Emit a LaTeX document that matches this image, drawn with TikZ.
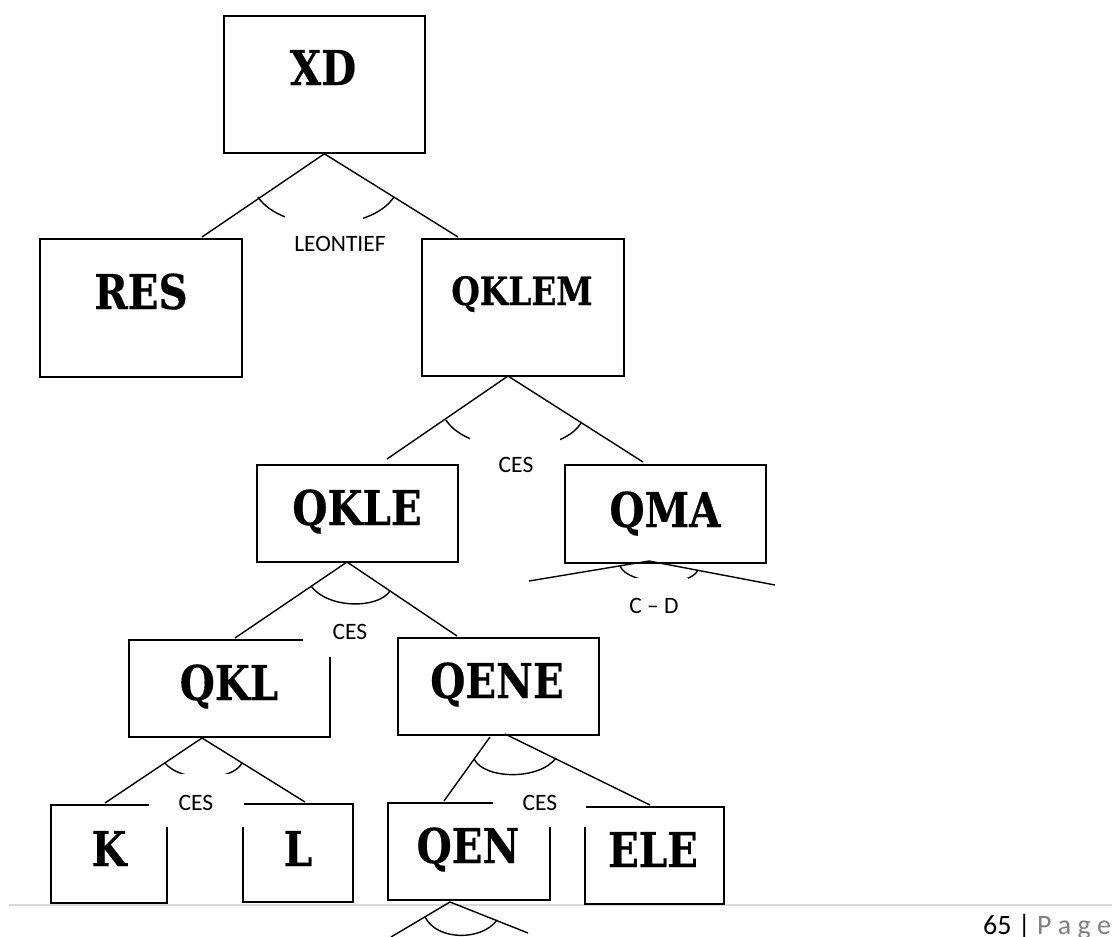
\documentclass[tikz,border=0pt]{standalone}
\usepackage{fontspec}
\setmainfont{Carlito}
\newfontfamily\boxfont[FakeStretch=0.84,FakeBold=0.4]{DejaVu Serif}
\definecolor{rulegray}{RGB}{217,217,217}
\definecolor{pagegray}{RGB}{127,127,127}
\tikzset{
  box/.style={draw, line width=1.8pt, inner sep=0pt, anchor=north west},
  boxtxt/.style={font=\boxfont\bfseries\fontsize{48}{48}\selectfont, inner sep=0pt, anchor=base},
  smalltxt/.style={font=\boxfont\bfseries\fontsize{39}{39}\selectfont, inner sep=0pt, anchor=base},
  conn/.style={line width=1.4pt},
  arcln/.style={line width=1.4pt},
  mask/.style={fill=white, draw=none},
  lbl/.style={font=\fontsize{23.5}{23.5}\selectfont, inner sep=0pt, anchor=center}
}
\begin{document}
\begin{tikzpicture}[x=1pt, y=-1pt]
\useasboundingbox (0,0) rectangle (1112,937);

% footer rule
\draw[line width=1.6pt, rulegray] (9,905) -- (1112,905);

% boxes
\node[box, minimum width=201pt, minimum height=137pt] (XD) at (223,15) {};
\node[box, minimum width=202pt, minimum height=138pt] (RES) at (39,238) {};
\node[box, minimum width=202pt, minimum height=137pt] (QKLEM) at (421,238) {};
\node[box, minimum width=201pt, minimum height=97pt] (QKLE) at (256,464) {};
\node[box, minimum width=201pt, minimum height=98pt] (QMA) at (564,464) {};
\node[box, minimum width=201pt, minimum height=97pt] (QKL) at (128,639) {};
\node[box, minimum width=201pt, minimum height=97pt] (QENE) at (397,637) {};
\node[box, minimum width=116pt, minimum height=98pt] (K) at (50,804) {};
\node[box, minimum width=110pt, minimum height=98pt] (L) at (242,803) {};
\node[box, minimum width=162pt, minimum height=97pt] (QEN) at (387,802) {};
\node[box, minimum width=139pt, minimum height=97pt] (ELE) at (584,806) {};

% box texts
\node[boxtxt] (XDt) at (323,85) {XD};
\node[boxtxt] (RESt) at (141,309) {RES};
\node[smalltxt] (QKLEMt) at (522,305) {QKLEM};
\node[boxtxt] (QKLEt) at (357,525) {QKLE};
\node[boxtxt] (QMAt) at (665,527) {QMA};
\node[boxtxt] (QKLt) at (229,700) {QKL};
\node[boxtxt] (QENEt) at (497,698) {QENE};
\node[boxtxt] (Kt) at (109,866) {K};
\node[boxtxt] (Lt) at (298,866) {L};
\node[boxtxt] (QENt) at (468,863) {QEN};
\node[boxtxt] (ELEt) at (653,867) {ELE};

% connector end points
\coordinate (xdR) at (202,237);
\coordinate (xdQ) at (458,237);
\coordinate (qklemA) at (508,376);
\coordinate (qklemL) at (387,459);
\coordinate (qklemR) at (643,462);
\coordinate (qkleA) at (347,562);
\coordinate (qkleL) at (235,638);
\coordinate (qkleR) at (457,636);
\coordinate (qmaA) at (649,561);
\coordinate (qmaL) at (529,581);
\coordinate (qmaR) at (775,585);
\coordinate (qklA) at (202,738);
\coordinate (qklL) at (105,803);
\coordinate (qklR) at (305,802);
\coordinate (qeneA1) at (490,737);
\coordinate (qeneA2) at (505,734);
\coordinate (qeneL) at (444,801);
\coordinate (qeneR) at (650,805);
\coordinate (qenA) at (450,902);
\coordinate (qenL) at (391,937);
\coordinate (qenR) at (528,933);

% connectors
\draw[conn] (xdR) -- (XD.south) -- (xdQ);
\draw[conn] (qklemL) -- (qklemA) -- (qklemR);
\draw[conn] (qkleL) -- (qkleA) -- (qkleR);
\draw[conn] (qmaL) -- (qmaA) -- (qmaR);
\draw[conn] (qklL) -- (qklA) -- (qklR);
\draw[conn] (qeneA1) -- (qeneL);
\draw[conn] (qeneA2) -- (qeneR);
\draw[conn] (qenL) -- (qenA) -- (qenR);

% elasticity arcs
\draw[arcln] (258,197) .. controls (282,233) and (370,233) .. (394,197);
\draw[arcln] (446,420) .. controls (468,455) and (560,457) .. (581,423);
\draw[arcln] (620,566) .. controls (628,585) and (690,588) .. (698,570);
\draw[arcln] (311,586) .. controls (328,609) and (378,609) .. (390,591);
\draw[arcln] (165,763) .. controls (180,782) and (232,782) .. (242,763);
\draw[arcln] (474,759) .. controls (485,780) and (540,780) .. (556,758);
\draw[arcln] (425,917) .. controls (437,941) and (482,941) .. (497,920);

% white masks (text box cut-outs)
\fill[mask] (285,216) rectangle (363,265);
\fill[mask] (470,437) rectangle (560,490);
\fill[mask] (635,578) rectangle (688,625);
\fill[mask] (303,607) rectangle (397,657);
\fill[mask] (149,774) rectangle (244,827);
\fill[mask] (493,777) rectangle (586,827);

% labels
\node[lbl] (lLeon) at (340,244) {LEONTIEF};
\node[lbl] (lCes1) at (516,465) {CES};
\node[lbl] (lCD) at (654,606) {C -- D};
\node[lbl] (lCes2) at (350,632) {CES};
\node[lbl] (lCes3) at (196,803) {CES};
\node[lbl] (lCes4) at (540,803) {CES};

% page number
\node[anchor=base west, inner sep=0pt, font=\fontsize{28}{28}\selectfont] (pg) at (983,934) {65 | \textcolor{pagegray}{P a g e}};
\end{tikzpicture}
\end{document}
